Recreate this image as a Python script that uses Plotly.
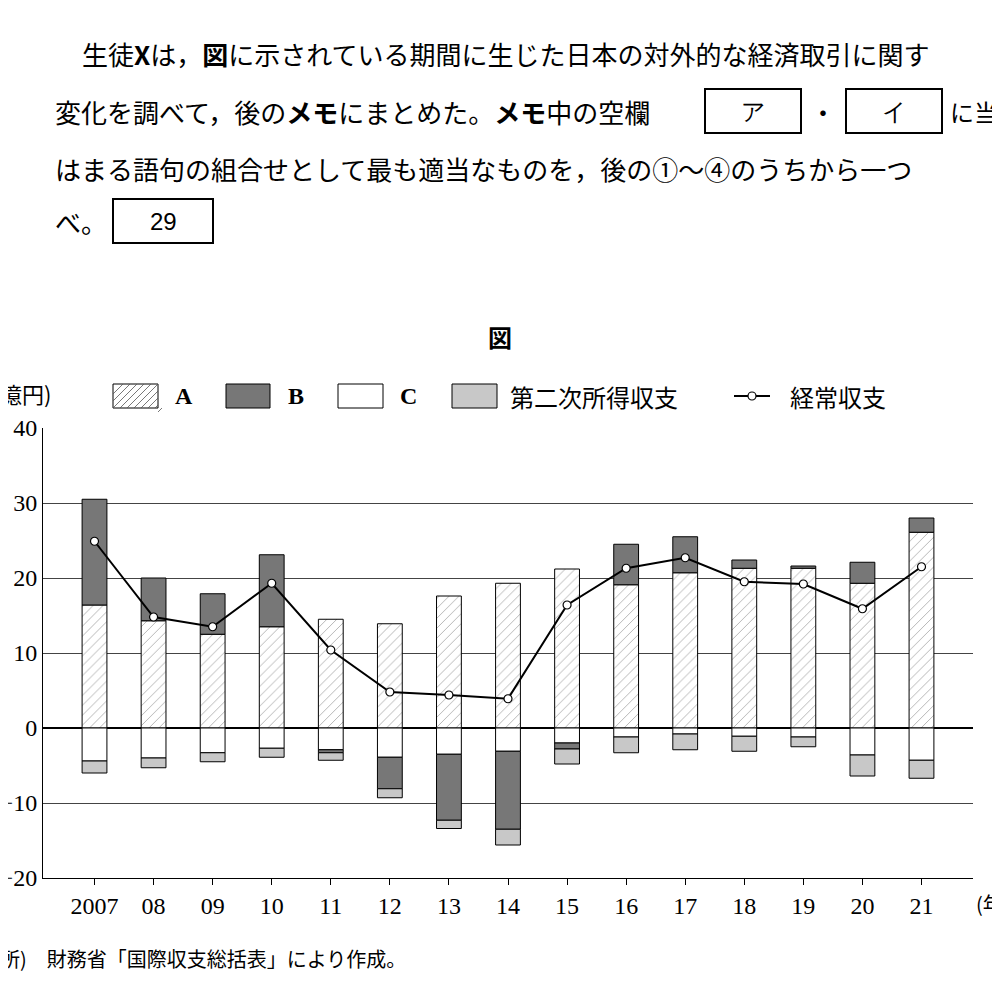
import plotly.graph_objects as go

years = ["2007", "08", "09", "10", "11", "12", "13", "14", "15", "16", "17", "18", "19", "20", "21"]
a_vals = [16.4, 14.3, 12.5, 13.5, 14.5, 13.9, 17.6, 19.3, 21.2, 19.1, 20.7, 21.3, 21.3, 19.3, 26.1]
b_vals = [14.1, 5.7, 5.4, 9.6, -0.4, -4.2, -8.8, -10.4, -0.8, 5.4, 4.8, 1.1, 0.3, 2.8, 1.9]
c_vals = [-4.4, -4.0, -3.3, -2.7, -2.9, -3.9, -3.5, -3.1, -2.0, -1.2, -0.8, -1.1, -1.2, -3.6, -4.3]
second_vals = [-1.6, -1.3, -1.2, -1.2, -1.0, -1.2, -1.1, -2.1, -2.0, -2.1, -2.1, -2.0, -1.3, -2.8, -2.4]
current_vals = [24.9, 14.8, 13.5, 19.3, 10.4, 4.8, 4.4, 3.9, 16.4, 21.3, 22.7, 19.5, 19.2, 15.9, 21.5]

JP = "Noto Sans CJK JP"
L, R, T, B = 35, 965, 420, 870


def px(x):
    return (x - L) / (R - L)


def py(y):
    return (B - y) / (B - T)


line = dict(color="black", width=1)
fig = go.Figure()
# order A, C, B, second: positives stack A then B, negatives stack C, B, second
fig.add_trace(go.Bar(x=years, y=a_vals, width=0.42,
                     marker=dict(color="white", line=line,
                                 pattern=dict(shape="/", fgcolor="#555", bgcolor="white", size=7, solidity=0.12))))
fig.add_trace(go.Bar(x=years, y=c_vals, width=0.42, marker=dict(color="white", line=line)))
fig.add_trace(go.Bar(x=years, y=b_vals, width=0.42, marker=dict(color="#777777", line=line)))
fig.add_trace(go.Bar(x=years, y=second_vals, width=0.42, marker=dict(color="#c8c8c8", line=line)))
fig.add_trace(go.Scatter(x=years, y=current_vals, mode="lines+markers",
                         line=dict(color="black", width=2),
                         marker=dict(color="white", size=8, line=dict(color="black", width=1.2))))

anns = []
shapes = []


def text(x, y, s, size=26, anchor="left", font=JP):
    anns.append(dict(x=px(x), y=py(y), xref="paper", yref="paper", text=s, showarrow=False,
                     xanchor=anchor, yanchor="middle", font=dict(family=font, size=size, color="black")))


def box(x0, x1, y, s):
    shapes.append(dict(type="rect", xref="paper", yref="paper", x0=px(x0), x1=px(x1),
                       y0=py(y - 22), y1=py(y + 22), line=dict(color="black", width=2)))
    text((x0 + x1) / 2, y, s, size=24, anchor="center", font="Liberation Sans")


def rect(x0, x1, y0, y1, fill):
    shapes.append(dict(type="rect", xref="paper", yref="paper", x0=px(x0), x1=px(x1),
                       y0=py(y1), y1=py(y0), fillcolor=fill, line=dict(color="black", width=1)))


text(72, 45, "生徒<b>X</b>は，<b>図</b>に示されている期間に生じた日本の対外的な経済取引に関す")
text(45, 103, "変化を調べて，後の<b>メモ</b>にまとめた。<b>メモ</b>中の空欄")
box(697, 793, 103, "ア")
text(815, 103, "・", anchor="center")
box(838, 934, 103, "イ")
text(940, 103, "に当", size=24)
text(45, 160, "はまる語句の組合せとして最も適当なものを，後の①～④のうちから一つ")
text(45, 213, "べ。")
box(105, 205, 213, "29")
text(492, 328, "<b>図</b>", size=24, anchor="center")
text(-10, 385, "億円)", size=22)
text(966, 895, "(年)", size=20)
text(-10, 950, "所)　財務省「国際収支総括表」により作成。", size=20)

# legend drawn by hand
ly0, ly1 = 376, 400
rect(105, 150, ly0, ly1, "white")
for i in range(-2, 8):
    x0 = 105 + i * 7
    shapes.append(dict(type="line", xref="paper", yref="paper",
                       x0=px(max(x0, 105)), y0=py(ly1 - (max(x0, 105) - x0) * 24 / 24),
                       x1=px(min(x0 + 24, 150)), y1=py(ly0 + (x0 + 24 - min(x0 + 24, 150))),
                       line=dict(color="#555", width=0.8)))
text(165, 388, "<b>A</b>", size=24, font="Liberation Serif")
rect(218, 262, ly0, ly1, "#777777")
text(278, 388, "<b>B</b>", size=24, font="Liberation Serif")
rect(330, 375, ly0, ly1, "white")
text(390, 388, "<b>C</b>", size=24, font="Liberation Serif")
rect(444, 489, ly0, ly1, "#c8c8c8")
text(500, 388, "第二次所得収支", size=24)
shapes.append(dict(type="line", xref="paper", yref="paper", x0=px(726), x1=px(762),
                   y0=py(388), y1=py(388), line=dict(color="black", width=2)))
shapes.append(dict(type="circle", xref="paper", yref="paper", x0=px(740), x1=px(748),
                   y0=py(392), y1=py(384), fillcolor="white", line=dict(color="black", width=1.2)))
text(780, 388, "経常収支", size=24)

fig.update_layout(
    width=1000, height=985, margin=dict(l=L, r=1000 - R, t=T, b=985 - B, autoexpand=False),
    paper_bgcolor="white", plot_bgcolor="white", barmode="relative", showlegend=False,
    font=dict(family="Liberation Serif", size=22, color="black"),
    annotations=anns, shapes=shapes,
    xaxis=dict(showline=True, linecolor="black", ticks="outside", ticklen=6, tickcolor="black",
               tickfont=dict(family="Liberation Serif", size=24), automargin=False),
    yaxis=dict(range=[-20, 40], dtick=10, showgrid=True, gridcolor="#444", gridwidth=1,
               zeroline=True, zerolinecolor="black", showline=True, linecolor="black",
               tickfont=dict(family="Liberation Serif", size=24), automargin=False),
)
fig.write_html("out.html")
